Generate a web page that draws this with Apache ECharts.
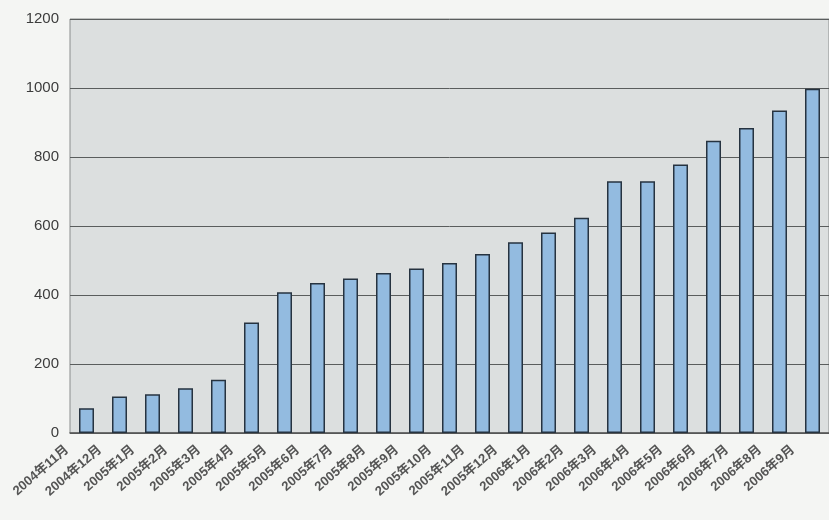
<!DOCTYPE html>
<html>
<head>
<meta charset="utf-8">
<script src="https://cdn.jsdelivr.net/npm/echarts@6/dist/echarts.min.js"></script>
<style>
  html, body { margin: 0; padding: 0; background: #f4f5f3; }
  #main { width: 829px; height: 520px; }
</style>
</head>
<body>
<div id="main"></div>
<script>
// months on the x axis
const months = [
  '2004年11月', '2004年12月',
  '2005年1月', '2005年2月', '2005年3月', '2005年4月', '2005年5月', '2005年6月',
  '2005年7月', '2005年8月', '2005年9月', '2005年10月', '2005年11月', '2005年12月',
  '2006年1月', '2006年2月', '2006年3月', '2006年4月', '2006年5月', '2006年6月',
  '2006年7月', '2006年8月', '2006年9月'
]
// bar heights
const counts = [
  72, 106, 112, 130, 154, 320, 408, 435, 448, 464, 477, 493,
  519, 553, 581, 624, 730, 730, 778, 847, 884, 935, 998
]
const yTicks = { min: 0, max: 1200, interval: 200 }

const myChart = echarts.init(document.getElementById('main'))
const option = {
  animation: false,
  backgroundColor: '#f4f5f3',
  grid: {
    left: 70,
    top: 19,
    width: 761,
    height: 414,
    show: true,
    backgroundColor: '#dcdfdf',
    borderColor: '#8a8d8d',
    borderWidth: 1
  },
  xAxis: {
    type: 'category',
    data: months,
    boundaryGap: true,
    axisTick: { show: false },
    axisLine: { lineStyle: { color: '#555', width: 1.5 } },
    axisLabel: {
      rotate: 41,
      interval: 0,
      margin: -2,
      fontSize: 13,
      fontWeight: 'bold',
      color: '#555',
      fontFamily: 'Liberation Sans, "Noto Sans CJK JP", sans-serif',
      padding: [0, 26, 0, 0]
    }
  },
  yAxis: {
    type: 'value',
    min: yTicks.min,
    max: yTicks.max,
    interval: yTicks.interval,
    axisLine: { show: false },
    axisTick: { show: false },
    axisLabel: {
      fontSize: 15,
      color: '#3c3c3c',
      margin: 11,
      fontFamily: 'Liberation Sans, sans-serif',
      formatter: v => String(v)
    },
    splitLine: { lineStyle: { color: '#5a5d5d', width: 1 } }
  },
  series: [
    {
      type: 'bar',
      data: counts,
      barWidth: 15,
      itemStyle: {
        color: '#93bbe0',
        borderColor: '#263340',
        borderWidth: 1.5
      }
    }
  ]
}
myChart.setOption(option)
</script>
</body>
</html>
